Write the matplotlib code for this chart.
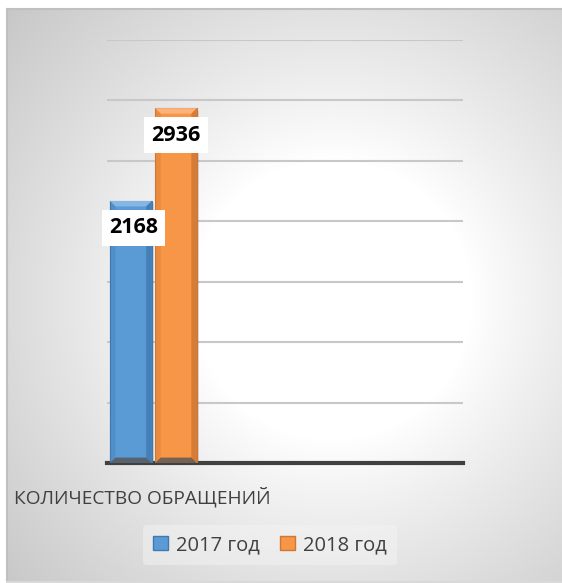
import numpy as np
import matplotlib.pyplot as plt
from matplotlib.patches import Polygon, Patch

plt.rcParams['font.family'] = ['Open Sans', 'DejaVu Sans']

category = "КОЛИЧЕСТВО ОБРАЩЕНИЙ"
series = ["2017 год", "2018 год"]
values = [2168, 2936]
colors = ["#5b9bd5", "#f79646"]
light = ["#86b6e3", "#fbb27c"]
dark = ["#3f79b0", "#cf7632"]

fig = plt.figure(figsize=(5.62, 5.83), dpi=100)

# radial gradient background
bg = fig.add_axes([7 / 562, 1 / 583, 555 / 562, 573 / 583])
h, w = 573, 555
yy, xx = np.mgrid[0:h, 0:w]
r = np.sqrt((xx - 325) ** 2 + (yy - 290) ** 2)
t = np.clip((r - 140) / 300.0, 0, 1)
g = 1 - 0.22 * t ** 0.9
bg.imshow(np.dstack([g, g, g]), aspect='auto', extent=[0, w, h, 0], vmin=0, vmax=1)
bg.set_xticks([])
bg.set_yticks([])
for s in bg.spines.values():
    s.set_color("#c0c0c0")
    s.set_linewidth(1.5)
bg.spines['right'].set_visible(False)
bg.spines['bottom'].set_color("#d9d9d9")

ax = fig.add_axes([107 / 562, 120 / 583, 356 / 562, 423 / 583])
ax.patch.set_alpha(0)
ax.set_xlim(0, 1)
ax.set_ylim(0, 3500)
ax.set_yticks(np.arange(500, 3501, 500))
ax.yaxis.grid(True, color="#c8c8c8", linewidth=1.5)
ax.set_axisbelow(True)
ax.tick_params(left=False, bottom=False, labelleft=False, labelbottom=False)
for s in ['top', 'right', 'left']:
    ax.spines[s].set_visible(False)
ax.spines['bottom'].set_color("#404040")
ax.spines['bottom'].set_linewidth(3)

bw = 0.118
gap = 0.009
bx = 0.008
bev_x = 0.016
bev_y = 45

for i, (v, c) in enumerate(zip(values, colors)):
    x0 = bx + i * (bw + gap)
    x1 = x0 + bw
    # shadow
    ax.bar(x0 + bw / 2 + 0.006, v, width=bw, bottom=-20, color="#000000", alpha=0.12, zorder=2)
    ax.bar(x0 + bw / 2, v, width=bw, color=c, edgecolor=dark[i], linewidth=0.8, zorder=3)
    top = [(x0, v), (x1, v), (x1 - bev_x, v - bev_y), (x0 + bev_x, v - bev_y)]
    right = [(x1, v), (x1, 0), (x1 - bev_x, bev_y), (x1 - bev_x, v - bev_y)]
    left = [(x0, v), (x0, 0), (x0 + bev_x, bev_y), (x0 + bev_x, v - bev_y)]
    bot = [(x0, 0), (x1, 0), (x1 - bev_x, bev_y), (x0 + bev_x, bev_y)]
    ax.add_patch(Polygon(top, closed=True, color=light[i], zorder=4, lw=0))
    ax.add_patch(Polygon(right, closed=True, color=dark[i], zorder=4, lw=0, alpha=0.8))
    ax.add_patch(Polygon(left, closed=True, color=dark[i], zorder=4, lw=0, alpha=0.35))
    ax.add_patch(Polygon(bot, closed=True, color="#555555", zorder=4, lw=0, alpha=0.8))
    ax.annotate(str(v), (x0 + bw / 2, v), xytext=(2.5 - i * 2.5, -27), textcoords='offset pixels',
                ha='center', va='center', fontsize=15.5, fontweight='bold', color="#000000",
                zorder=6, bbox=dict(boxstyle='square,pad=0.34', fc='white', ec='none'))

fig.text(14 / 562, (583 - 497) / 583, category, ha='left', va='center',
         fontsize=13.8, color="#404040")

handles = [Patch(facecolor=c, edgecolor=d, linewidth=1) for c, d in zip(colors, dark)]
leg = fig.legend(handles, series, loc='center', bbox_to_anchor=(270 / 562, (583 - 545) / 583),
                 ncol=2, frameon=True, fontsize=14.5, handlelength=0.75, handleheight=0.75,
                 handletextpad=0.4, columnspacing=1.0, borderpad=0.5)
leg.get_frame().set_facecolor("#f3f3f3")
leg.get_frame().set_alpha(0.5)
leg.get_frame().set_edgecolor("none")
for t in leg.get_texts():
    t.set_color("#404040")

fig.savefig("out.png", dpi=100)
